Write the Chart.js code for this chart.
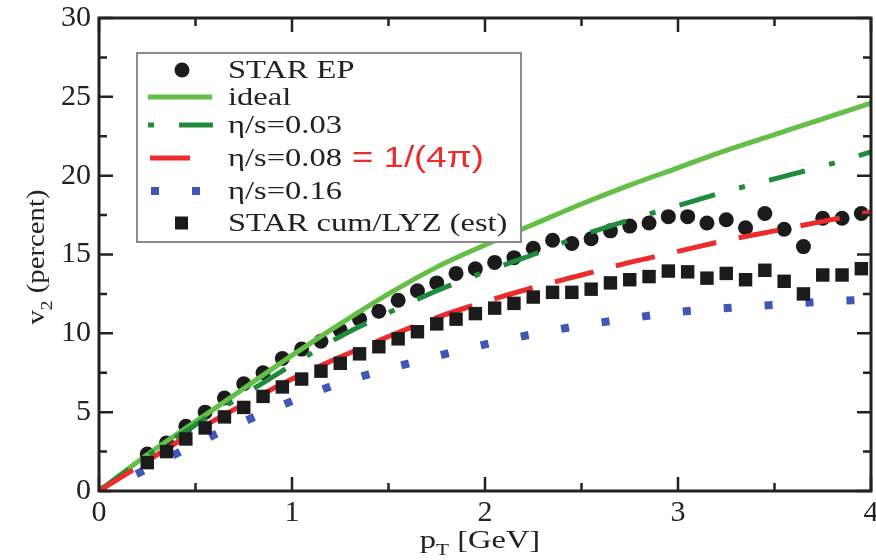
<!DOCTYPE html>
<html><head><meta charset="utf-8">
<script src="https://cdn.jsdelivr.net/npm/chart.js@4/dist/chart.umd.min.js"></script>
<style>html,body{margin:0;padding:0;background:#fff;overflow:hidden}</style>
</head><body>
<canvas id="c" width="876" height="560"></canvas>
<script>
// ---------- data ----------
const epPt  = [0.25,0.35,0.45,0.55,0.65,0.75,0.85,0.95,1.05,1.15,1.25,1.35,1.45,1.55,1.65,1.75,1.85,1.95,2.05,2.15,2.25,2.35,2.45,2.55,2.65,2.75,2.85,2.95,3.05,3.15,3.25,3.35,3.45,3.55,3.65,3.75,3.85,3.95];
const epV2  = [2.35,3.05,4.1,5.0,5.9,6.8,7.5,8.4,9.0,9.5,10.2,10.9,11.4,12.1,12.7,13.2,13.8,14.1,14.5,14.8,15.4,15.9,15.7,16.0,16.5,16.8,17.0,17.4,17.4,17.0,17.2,16.7,17.6,16.6,15.5,17.3,17.3,17.6];
const lyzPt = [0.25,0.35,0.45,0.55,0.65,0.75,0.85,0.95,1.05,1.15,1.25,1.35,1.45,1.55,1.65,1.75,1.85,1.95,2.05,2.15,2.25,2.35,2.45,2.55,2.65,2.75,2.85,2.95,3.05,3.15,3.25,3.35,3.45,3.55,3.65,3.75,3.85,3.95];
const lyzV2 = [1.8,2.5,3.3,4.0,4.7,5.3,6.0,6.6,7.1,7.6,8.1,8.7,9.15,9.65,10.1,10.6,10.9,11.25,11.6,11.9,12.3,12.6,12.6,12.8,13.2,13.4,13.6,13.95,13.9,13.5,13.8,13.4,14.0,13.3,12.5,13.7,13.7,14.1];
const hydroPt    = [0,0.25,0.5,0.75,1.0,1.25,1.5,1.75,2.0,2.25,2.5,2.75,3.0,3.25,3.5,3.75,4.0];
const idealV2    = [0,2.3,4.4,6.5,8.6,10.6,12.5,14.2,15.6,16.9,18.2,19.4,20.5,21.6,22.6,23.6,24.6];
const visc003V2  = [0,2.2,4.2,6.1,8.0,9.8,11.3,12.7,13.9,15.0,16.2,17.2,18.1,19.0,19.8,20.6,21.5];
const visc008V2  = [0,1.9,3.8,5.5,7.1,8.5,9.8,11.0,12.0,12.9,13.7,14.5,15.2,15.9,16.5,17.1,17.7];
const visc016V2  = [0,1.4,3.0,4.4,5.7,6.85,7.75,8.55,9.3,9.95,10.5,10.95,11.35,11.6,11.8,12.0,12.15];
const xMajorTicks = [0,1,2,3,4];
const xMinorTicks = [0.5,1.5,2.5,3.5];
const yMajorTicks = [0,5,10,15,20,25,30];
const yMinorTicks = [2.5,7.5,12.5,17.5,22.5,27.5];
const legendLabels = ['STAR EP','ideal','\u03B7/s=0.03','\u03B7/s=0.08','\u03B7/s=0.16','STAR cum/LYZ (est)'];
const noteText = '= 1/(4\u03C0)';

// ---------- styles ----------
const C_BLACK = '#1b1b1b', C_IDEAL = '#63bf46', C_G03 = '#1f8b3b', C_RED = '#ec2b2b', C_BLUE = '#3f57b6';
const SERIF = '"Liberation Serif", "DejaVu Serif", serif';
const pts = (xs, ys) => xs.map((x, i) => ({x: x, y: ys[i]}));

const datasets = [
  {label: legendLabels[5], data: pts(lyzPt, lyzV2), showLine: false, pointStyle: 'rect', pointRadius: 9.5,
   backgroundColor: C_BLACK, borderColor: C_BLACK, borderWidth: 0, order: 0},
  {label: legendLabels[3], data: pts(hydroPt, visc008V2), showLine: true, borderColor: C_RED, borderWidth: 5,
   borderDash: [40, 23], pointRadius: 0, order: 1, cubicInterpolationMode: 'monotone', fill: false},
  {label: legendLabels[2], data: pts(hydroPt, visc003V2), showLine: true, borderColor: C_G03, borderWidth: 5,
   borderDash: [37, 25, 6, 25], pointRadius: 0, order: 2, cubicInterpolationMode: 'monotone', fill: false},
  {label: legendLabels[1], data: pts(hydroPt, idealV2), showLine: true, borderColor: C_IDEAL, borderWidth: 5,
   pointRadius: 0, order: 3, cubicInterpolationMode: 'monotone', fill: false},
  {label: legendLabels[4], data: pts(hydroPt, visc016V2), showLine: true, borderColor: C_BLUE, borderWidth: 8,
   borderDash: [8, 33], pointRadius: 0, order: 4, cubicInterpolationMode: 'monotone', fill: false},
  {label: legendLabels[0], data: pts(epPt, epV2), showLine: false, pointStyle: 'circle', pointRadius: 7.5,
   backgroundColor: C_BLACK, borderColor: C_BLACK, borderWidth: 0, order: 5}
];

function stretchText(ctx, text, x, y, font, color, sx, align) {
  ctx.save();
  ctx.font = font; ctx.fillStyle = color; ctx.textBaseline = 'middle'; ctx.textAlign = 'left';
  const w = ctx.measureText(text).width * sx;
  let x0 = x;
  if (align === 'center') x0 = x - w / 2;
  ctx.translate(x0, y); ctx.scale(sx, 1);
  ctx.fillText(text, 0, 0);
  ctx.restore();
  return w;
}

const framePlugin = {
  id: 'frame',
  afterDatasetsDraw(chart) {
    const {ctx, chartArea: a, scales} = chart;
    const xs = scales.x, ys = scales.y;
    ctx.save();
    // ticks
    ctx.strokeStyle = '#222'; ctx.lineWidth = 2.5; ctx.lineCap = 'butt';
    const tickX = (v, len) => { const p = xs.getPixelForValue(v);
      ctx.beginPath(); ctx.moveTo(p, a.bottom); ctx.lineTo(p, a.bottom - len);
      ctx.moveTo(p, a.top); ctx.lineTo(p, a.top + len); ctx.stroke(); };
    const tickY = (v, len) => { const p = ys.getPixelForValue(v);
      ctx.beginPath(); ctx.moveTo(a.left, p); ctx.lineTo(a.left + len, p);
      ctx.moveTo(a.right, p); ctx.lineTo(a.right - len, p); ctx.stroke(); };
    xMajorTicks.forEach(v => tickX(v, 14)); xMinorTicks.forEach(v => tickX(v, 8));
    yMajorTicks.forEach(v => tickY(v, 14)); yMinorTicks.forEach(v => tickY(v, 8));
    // frame
    ctx.lineWidth = 3; ctx.strokeStyle = '#222';
    ctx.strokeRect(a.left, a.top, a.right - a.left, a.bottom - a.top);

    // axis titles
    ctx.fillStyle = '#222'; ctx.textBaseline = 'alphabetic'; ctx.textAlign = 'left';
    // y title
    ctx.save();
    ctx.translate(44, 257); ctx.rotate(-Math.PI / 2);
    ctx.font = '25px ' + SERIF; const wv = ctx.measureText('v').width;
    ctx.font = '17px ' + SERIF; const w2 = ctx.measureText('2').width;
    ctx.font = '25px ' + SERIF; const wp = ctx.measureText(' (percent)').width;
    let sx = 1.15, tot = (wv + w2 + wp) * sx;
    ctx.scale(sx, 1);
    let x0 = -tot / 2 / sx;
    ctx.font = '25px ' + SERIF; ctx.fillText('v', x0, 0);
    ctx.font = '17px ' + SERIF; ctx.fillText('2', x0 + wv, 8);
    ctx.font = '25px ' + SERIF; ctx.fillText(' (percent)', x0 + wv + w2, 0);
    ctx.restore();
    // x title
    ctx.save();
    ctx.font = '26px ' + SERIF; const wpp = ctx.measureText('p').width;
    ctx.font = '17px ' + SERIF; const wT = ctx.measureText('T').width;
    ctx.font = '26px ' + SERIF; const wg = ctx.measureText(' [GeV]').width;
    sx = 1.25; tot = (wpp + wT + wg) * sx;
    const cx = 480;
    ctx.translate(cx - tot / 2, 548); ctx.scale(sx, 1);
    ctx.font = '26px ' + SERIF; ctx.fillText('p', 0, 0);
    ctx.font = '17px ' + SERIF; ctx.fillText('T', wpp, 7);
    ctx.font = '26px ' + SERIF; ctx.fillText(' [GeV]', wpp + wT, 0);
    ctx.restore();

    // legend
    const L = 137, T = 53, W = 384, H = 189;
    ctx.fillStyle = '#fff'; ctx.fillRect(L, T, W, H);
    ctx.strokeStyle = '#8a8a8a'; ctx.lineWidth = 2; ctx.strokeRect(L, T, W, H);
    const rows = [70, 97, 125, 158, 191, 223];
    const byLabel = lab => chart.data.datasets.find(d => d.label === lab);
    // STAR EP
    let d = byLabel(legendLabels[0]);
    ctx.fillStyle = d.backgroundColor; ctx.beginPath(); ctx.arc(182, rows[0], 7.5, 0, Math.PI * 2); ctx.fill();
    // lines
    const drawSample = (lab, y, x1, x2, off) => {
      const ds = byLabel(lab);
      ctx.save(); ctx.strokeStyle = ds.borderColor; ctx.lineWidth = ds.borderWidth;
      ctx.setLineDash(ds.borderDash || []); ctx.lineDashOffset = off || 0; ctx.lineCap = 'butt';
      ctx.beginPath(); ctx.moveTo(x1, y); ctx.lineTo(x2, y); ctx.stroke(); ctx.restore();
    };
    drawSample(legendLabels[1], rows[1], 148, 212, 0);
    drawSample(legendLabels[2], rows[2], 148, 213, 62);
    drawSample(legendLabels[3], rows[3], 150, 190, 0);
    drawSample(legendLabels[4], rows[4], 151, 200, 0);
    d = byLabel(legendLabels[5]);
    ctx.fillStyle = d.backgroundColor; ctx.fillRect(175, rows[5] - 6.5, 13, 13);
    // texts
    legendLabels.forEach((t, i) => stretchText(ctx, t, 228, rows[i] + 1, '25px ' + SERIF, '#222', 1.3));
    stretchText(ctx, noteText, 352, rows[3] + 1, '30px "Liberation Sans", Arial, sans-serif', C_RED, 1.22);
    ctx.restore();
  }
};

new Chart(document.getElementById('c'), {
  type: 'scatter',
  data: {datasets: datasets},
  options: {
    responsive: false, devicePixelRatio: 1, animation: false, events: [],
    layout: {autoPadding: false, padding: {top: 18, right: 5, left: 0, bottom: 0}},
    plugins: {legend: {display: false}, tooltip: {enabled: false}},
    scales: {
      x: {type: 'linear', min: 0, max: 4,
          ticks: {stepSize: 1, color: '#222', padding: 4, font: {family: SERIF, size: 30}, maxRotation: 0},
          grid: {display: false, drawTicks: false}, border: {display: false},
          afterFit: s => { s.height = 69; s.paddingLeft = 0; s.paddingRight = 0; }},
      y: {type: 'linear', min: 0, max: 30,
          ticks: {stepSize: 5, color: '#222', padding: 8, font: {family: SERIF, size: 30}},
          grid: {display: false, drawTicks: false}, border: {display: false},
          afterFit: s => { s.width = 99; s.paddingTop = 0; s.paddingBottom = 0; }}
    }
  },
  plugins: [framePlugin]
});
</script>
</body></html>
